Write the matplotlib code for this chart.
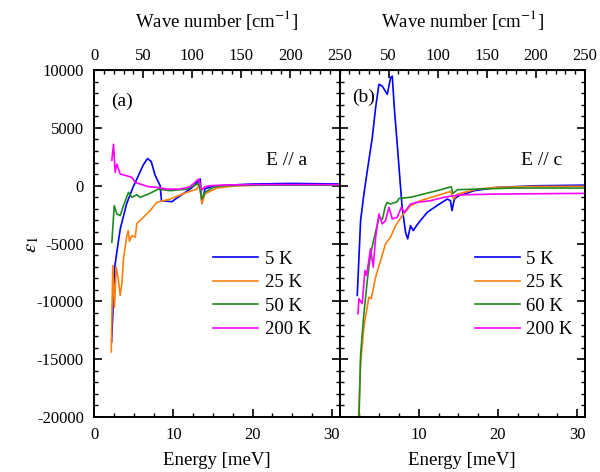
import matplotlib
matplotlib.use("Agg")
import matplotlib.pyplot as plt
from matplotlib.ticker import MultipleLocator, FuncFormatter

plt.rcParams['font.family'] = ['Liberation Serif', 'DejaVu Serif']
plt.rcParams['mathtext.fontset'] = 'stix'
plt.rcParams['axes.unicode_minus'] = False

MEV_TO_CM = 8.0655

# panel (a), E // a
a_labels = ['5 K', '25 K', '50 K', '200 K']
a_5K_x = [2.2, 2.6, 3.07, 3.3, 4.1, 4.9, 5.6, 6.2, 6.73, 7.2, 7.7, 8.33, 8.5, 9.8, 11.0, 12.3, 13.4, 13.6, 14.0, 15.0, 17.0, 20.0, 25.0, 31.0]
a_5K_y = [-13500, -7000, -4740, -3700, -1550, -140, 900, 1800, 2350, 2100, 900, 0, -1290, -1380, -800, -200, 580, -1550, -260, -50, 50, 150, 200, 150]
a_25K_x = [2.15, 2.35, 2.56, 2.78, 3.07, 3.28, 3.5, 3.7, 4.13, 4.3, 4.45, 4.76, 5.18, 5.39, 6.2, 7.07, 7.9, 9.6, 11.7, 13.0, 13.3, 13.6, 14.0, 15.5, 18.0, 22.0, 31.0]
a_25K_y = [-14370, -6900, -10500, -7040, -8190, -9480, -8450, -6300, -4310, -3880, -4800, -4310, -4450, -3280, -2730, -2150, -1440, -1150, -570, -290, 290, -1550, -690, -200, 0, 50, 50]
a_50K_x = [2.23, 2.53, 2.86, 3.28, 3.7, 4.33, 4.76, 5.39, 5.8, 6.86, 8.1, 9.6, 11.7, 13.2, 13.6, 14.0, 15.0, 16.0, 20.0, 31.0]
a_50K_y = [-4890, -1720, -2440, -2590, -1720, -570, -1000, -780, -1000, -720, -290, -430, -290, 200, -1150, -570, -150, 0, 50, 50]
a_200K_x = [2.23, 2.44, 2.65, 2.86, 3.28, 4.13, 4.76, 5.18, 5.8, 6.86, 7.9, 9.2, 10.86, 12.1, 13.2, 13.6, 14.0, 14.6, 16.3, 20.0, 31.0]
a_200K_y = [2210, 3590, 1150, 1870, 1010, 860, 720, 290, 150, -90, -140, -290, -290, -90, 580, -370, -90, 0, 60, 100, 100]

# panel (b), E // c
b_labels = ['5 K', '25 K', '60 K', '200 K']
b_5K_x = [2.23, 2.65, 3.07, 3.5, 4.13, 4.55, 4.97, 5.39, 6.02, 6.44, 6.65, 6.94, 7.28, 7.7, 7.9, 8.33, 8.6, 8.96, 9.3, 9.72, 10.2, 11.07, 12.3, 13.6, 14.0, 14.2, 14.5, 15.06, 17.0, 19.9, 25.0, 31.0]
b_5K_y = [-9480, -3020, -720, 1290, 4170, 6750, 8770, 8620, 7900, 9340, 9480, 6470, 3590, -140, -1870, -4020, -4600, -3450, -3880, -3450, -3020, -2300, -1720, -1150, -1290, -2150, -1150, -860, -430, -140, 0, 50]
b_25K_x = [2.36, 2.65, 3.07, 3.7, 4.0, 4.55, 5.18, 5.8, 6.44, 7.07, 7.9, 8.96, 10.2, 12.3, 14.0, 14.4, 14.9, 17.4, 19.9, 25.0, 31.0]
b_25K_y = [-20500, -15400, -12200, -9630, -9770, -7900, -6470, -5030, -4450, -3450, -2590, -1720, -1290, -860, -490, -1150, -720, -290, -140, -60, -50]
b_60K_x = [2.44, 2.65, 3.07, 3.5, 3.91, 4.34, 4.97, 5.4, 5.8, 6.0, 6.44, 7.28, 7.5, 8.96, 10.6, 12.3, 14.1, 14.3, 14.9, 17.4, 22.0, 31.0]
b_60K_y = [-20500, -14650, -11060, -8190, -5890, -4600, -2730, -2900, -1720, -1450, -1580, -1380, -1100, -1000, -720, -430, -90, -660, -345, -290, -200, -200]
b_200K_x = [2.32, 2.44, 2.86, 3.2, 3.41, 3.91, 4.25, 4.55, 4.97, 5.39, 5.8, 6.23, 6.65, 7.28, 7.79, 8.2, 8.96, 9.8, 11.5, 13.2, 14.4, 15.7, 19.9, 31.0]
b_200K_y = [-11060, -9770, -10200, -7330, -7760, -5460, -7040, -4450, -2440, -3300, -3020, -1870, -2870, -2730, -1870, -2300, -1580, -1440, -1290, -1000, -860, -780, -720, -660]

colors = ['#0000ff', '#ff7f0e', '#1f8a1f', '#ff00ff']

fig = plt.figure(figsize=(6.0, 4.72), dpi=100)
ax_a = fig.add_axes([0.157, 0.1165, 0.409, 0.735])
ax_b = fig.add_axes([0.566, 0.1165, 0.409, 0.735])

panels = [
    (ax_a, a_labels, [(a_5K_x, a_5K_y), (a_25K_x, a_25K_y), (a_50K_x, a_50K_y), (a_200K_x, a_200K_y)],
     '(a)', (0.069, 0.91), 'E // a', 0.868, 0.485),
    (ax_b, b_labels, [(b_5K_x, b_5K_y), (b_25K_x, b_25K_y), (b_60K_x, b_60K_y), (b_200K_x, b_200K_y)],
     '(b)', (0.053, 0.922), 'E // c', 0.908, 0.55),
]

for i, (ax, labels, series, tag, tag_pos, pol, pol_x, leg_x) in enumerate(panels):
    for (x, y), lab, c in zip(series, labels, colors):
        ax.plot(x, y, color=c, lw=1.2, label=lab)
    ax.set_xlim(0, 31)
    ax.set_ylim(-20000, 10000)
    ax.xaxis.set_major_locator(MultipleLocator(10))
    ax.xaxis.set_minor_locator(MultipleLocator(2.5))
    ax.yaxis.set_major_locator(MultipleLocator(5000))
    ax.yaxis.set_minor_locator(MultipleLocator(1000))
    ax.tick_params(which='both', direction='in', left=True, right=True, top=False, labelsize=12, pad=7.5)
    ax.tick_params(which='major', length=6, width=1.2)
    ax.tick_params(which='minor', length=3, width=1.0)
    for s in ax.spines.values():
        s.set_linewidth(1.4)
    ax.set_xlabel('Energy [meV]', fontsize=13.5, labelpad=6)
    if i == 1:
        ax.tick_params(labelleft=False)
        ax.xaxis.set_major_formatter(FuncFormatter(lambda v, p: '' if v == 0 else '%d' % v))
    ax.text(tag_pos[0], tag_pos[1], tag, transform=ax.transAxes, fontsize=14, va='center')
    ax.text(pol_x, 0.74, pol, transform=ax.transAxes, fontsize=14, va='center', ha='right')
    ax.legend(loc='upper left', bbox_to_anchor=(leg_x, 0.479), frameon=False, fontsize=13.5,
              handlelength=2.4, handletextpad=0.35, labelspacing=0.34, borderaxespad=0, borderpad=0)

    top = ax.secondary_xaxis('top', functions=(lambda e: e * MEV_TO_CM, lambda w: w / MEV_TO_CM))
    top.set_xticks([0, 50, 100, 150, 200, 250] if i == 0 else [50, 100, 150, 200, 250])
    top.xaxis.set_minor_locator(MultipleLocator(10))
    top.tick_params(which='both', direction='in', labelsize=12, pad=4.5)
    top.tick_params(which='major', length=6, width=1.2)
    top.tick_params(which='minor', length=3, width=1.0)
    top.set_xlabel('Wave number [cm$^{-1}$]', fontsize=13.5, labelpad=15)

ax_a.set_ylabel(r'$\varepsilon_1$', fontsize=15)
ax_a.yaxis.set_label_coords(-0.215, 0.496)

fig.savefig('out.png', dpi=100)
